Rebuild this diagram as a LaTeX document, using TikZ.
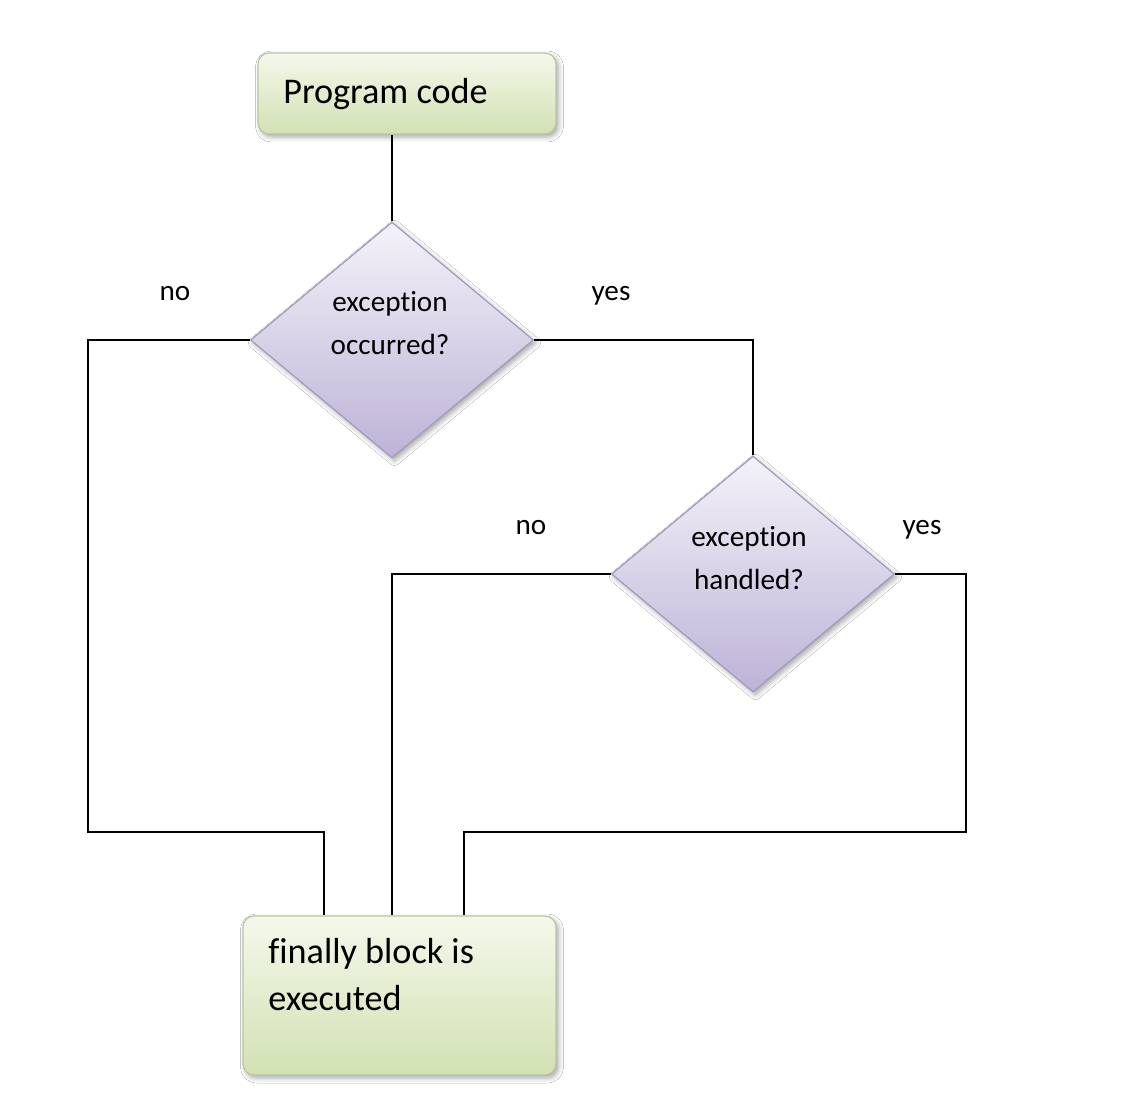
\documentclass[tikz,border=0pt]{standalone}
\usepackage{fontspec}
\setmainfont[Ligatures=NoCommon]{Carlito}
\usetikzlibrary{shapes.geometric,shadows.blur,calc}
\definecolor{gtop}{HTML}{F4F8EB}
\definecolor{gbot}{HTML}{D2E1B3}
\definecolor{gline}{HTML}{B9C7A2}
\definecolor{ptop}{HTML}{F4F2F9}
\definecolor{pbot}{HTML}{BDB3D7}
\definecolor{pline}{HTML}{A39BBE}
\begin{document}
\begin{tikzpicture}[x=0.02cm,y=-0.02cm,
  greenbox/.style={draw=gline, line width=0.7pt, rounded corners=0.22cm,
    top color=gtop, bottom color=gbot,
    blur shadow={shadow xshift=0.05cm, shadow yshift=-0.06cm, shadow blur radius=0.1cm, shadow opacity=35}},
  decision/.style={diamond, draw=pline, line width=0.7pt, inner sep=0pt,
    top color=ptop, bottom color=pbot,
    minimum width=5.66cm, minimum height=4.72cm,
    blur shadow={shadow xshift=0.05cm, shadow yshift=-0.06cm, shadow blur radius=0.1cm, shadow opacity=35}},
  conn/.style={line width=1.1pt, black},
  boxtext/.style={inner sep=0pt, align=left, font=\fontsize{20.6}{26.6}\selectfont},
  dectext/.style={inner sep=0pt, align=center, font=\fontsize{16.6}{24.4}\selectfont},
  lbl/.style={inner sep=0pt, anchor=base, font=\fontsize{16.6}{20}\selectfont}]
\useasboundingbox[fill=white] (0,0) rectangle (1130,1100);

% nodes
\node[greenbox, minimum width=5.96cm, minimum height=1.62cm] (pc) at (407,93.5) {};
\node[boxtext, anchor=base west] (pctext) at (283,103) {Program code};

\node[decision] (d1) at (392,340) {};
\node[dectext] (d1text) at (390,323) {exception\\occurred?};

\node[decision] (d2) at (753,574) {};
\node[dectext] (d2text) at (749,558) {exception\\handled?};

\node[greenbox, minimum width=6.26cm, minimum height=3.18cm] (fin) at (399.5,995.5) {};
\node[boxtext, anchor=north west] (fintext) at (268,938) {finally block is\\executed};

% labels
\node[lbl] (no1) at (175,300) {no};
\node[lbl] (yes1) at (611,300) {yes};
\node[lbl] (no2) at (531,534) {no};
\node[lbl] (yes2) at (922,534) {yes};

% connectors
\draw[conn] (d1.north) -- (d1.north |- pc.south);
\draw[conn] (d1.west) -| (88,832) -| ($(fin.north west)+(82,0)$);
\draw[conn] (d1.east) -| (d2.north);
\draw[conn] (d2.west) -| ($(fin.north west)+(150,0)$);
\draw[conn] (d2.east) -| (966,832) -| ($(fin.north west)+(222,0)$);
\end{tikzpicture}
\end{document}
